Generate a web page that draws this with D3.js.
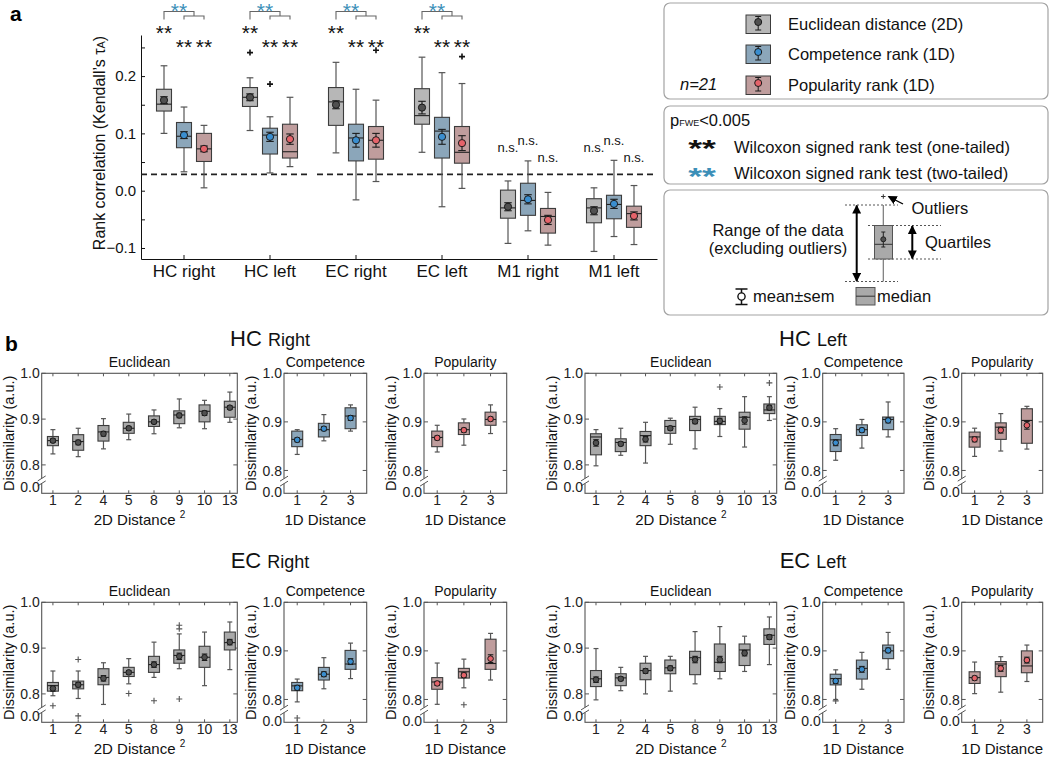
<!DOCTYPE html>
<html>
<head>
<meta charset="utf-8">
<script src="https://cdn.jsdelivr.net/npm/d3@7"></script>
<style>
  body { margin: 0; background: #fff; }
  svg { font-family: "Liberation Sans", Arial, sans-serif; }
</style>
</head>
<body>
<svg id="fig" width="1050" height="758"></svg>
<script>
// ---------- panel a data ----------
const regions = ["HC right", "HC left", "EC right", "EC left", "M1 right", "M1 left"];
const models = ["Euclidean distance (2D)", "Competence rank (1D)", "Popularity rank (1D)"];

// [whisker low, q1, median, q3, whisker high]
const euclidBoxes = [
  [0.100, 0.139, 0.151, 0.177, 0.218],
  [0.105, 0.147, 0.163, 0.180, 0.197],
  [0.066, 0.114, 0.155, 0.180, 0.224],
  [0.067, 0.116, 0.131, 0.178, 0.233],
  [-0.092, -0.048, -0.030, 0.001, 0.017],
  [-0.106, -0.056, -0.030, -0.014, 0.005]
];
const euclidMean = [0.158, 0.163, 0.150, 0.145, -0.028, -0.035];
const euclidSem = [0.006, 0.006, 0.007, 0.011, 0.007, 0.007];

const competenceBoxes = [
  [0.033, 0.075, 0.095, 0.119, 0.146],
  [0.031, 0.064, 0.097, 0.109, 0.129],
  [-0.016, 0.052, 0.092, 0.116, 0.177],
  [-0.028, 0.057, 0.104, 0.128, 0.206],
  [-0.070, -0.043, -0.017, 0.013, 0.052],
  [-0.080, -0.049, -0.024, -0.008, 0.053]
];
const competenceMean = [0.097, 0.094, 0.088, 0.094, -0.015, -0.023];
const competenceSem = [0.006, 0.008, 0.012, 0.013, 0.008, 0.008];

const popularityBoxes = [
  [0.005, 0.051, 0.073, 0.100, 0.114],
  [0.042, 0.057, 0.068, 0.116, 0.163],
  [0.016, 0.055, 0.088, 0.112, 0.158],
  [0.004, 0.048, 0.067, 0.112, 0.187],
  [-0.095, -0.074, -0.045, -0.031, -0.003],
  [-0.094, -0.064, -0.040, -0.027, 0.009]
];
const popularityMean = [0.073, 0.090, 0.088, 0.083, -0.051, -0.044];
const popularitySem = [0.005, 0.009, 0.012, 0.013, 0.008, 0.007];

// [region index, model index, value]
const outliersA = [[1, 0, 0.241], [1, 1, 0.186], [2, 2, 0.245], [3, 2, 0.234]];
const oneTailed = ["**", "**", "**", "**", "n.s.", "n.s."];
const twoTailed = [true, true, true, true, false, false];
const threshold = 0.0285;
const yTicksA = [-0.1, -0.05, 0, 0.05, 0.1, 0.15, 0.2, 0.25];

// ---------- panel b data ----------
const distances2D = ["1", "2", "4", "5", "8", "9", "10", "13"];
const distances1D = ["1", "2", "3"];
// [whisker low, q1, median, q3, whisker high, mean, sem]
const hcRightEuclid = [
  [0.824, 0.842, 0.853, 0.862, 0.877, 0.853, 0.004],
  [0.818, 0.832, 0.851, 0.866, 0.880, 0.849, 0.005],
  [0.835, 0.852, 0.872, 0.886, 0.901, 0.868, 0.005],
  [0.855, 0.869, 0.880, 0.893, 0.911, 0.880, 0.004],
  [0.868, 0.884, 0.894, 0.907, 0.920, 0.894, 0.004],
  [0.881, 0.890, 0.909, 0.918, 0.944, 0.908, 0.005],
  [0.879, 0.894, 0.917, 0.931, 0.941, 0.913, 0.005],
  [0.893, 0.904, 0.926, 0.939, 0.959, 0.925, 0.004]
];
const hcRightCompetence = [
  [0.833, 0.849, 0.864, 0.881, 0.884, 0.863, 0.004],
  [0.861, 0.869, 0.884, 0.897, 0.915, 0.886, 0.004],
  [0.881, 0.886, 0.912, 0.929, 0.935, 0.908, 0.005]
];
const hcRightPopularity = [
  [0.838, 0.849, 0.868, 0.881, 0.893, 0.867, 0.004],
  [0.852, 0.874, 0.884, 0.898, 0.906, 0.883, 0.004],
  [0.876, 0.893, 0.905, 0.920, 0.935, 0.906, 0.004]
];
const hcLeftEuclid = [
  [0.798, 0.822, 0.861, 0.868, 0.877, 0.848, 0.007],
  [0.821, 0.829, 0.849, 0.857, 0.880, 0.846, 0.004],
  [0.804, 0.842, 0.864, 0.873, 0.893, 0.856, 0.006],
  [0.845, 0.869, 0.884, 0.897, 0.902, 0.880, 0.004],
  [0.835, 0.875, 0.899, 0.906, 0.926, 0.895, 0.005],
  [0.862, 0.888, 0.895, 0.906, 0.923, 0.896, 0.006],
  [0.839, 0.878, 0.904, 0.915, 0.949, 0.897, 0.008],
  [0.897, 0.912, 0.920, 0.933, 0.949, 0.925, 0.005]
];
const hcLeftEuclidOut = [[5, 0.970], [7, 0.979]];
const hcLeftCompetence = [
  [0.821, 0.839, 0.863, 0.874, 0.886, 0.857, 0.006],
  [0.846, 0.872, 0.884, 0.894, 0.905, 0.883, 0.004],
  [0.869, 0.884, 0.905, 0.910, 0.941, 0.903, 0.005]
];
const hcLeftPopularity = [
  [0.829, 0.848, 0.869, 0.879, 0.887, 0.864, 0.005],
  [0.840, 0.864, 0.889, 0.898, 0.917, 0.883, 0.006],
  [0.844, 0.856, 0.903, 0.927, 0.932, 0.893, 0.008]
];
const ecRightEuclid = [
  [0.796, 0.806, 0.818, 0.825, 0.850, 0.812, 0.006],
  [0.790, 0.811, 0.820, 0.828, 0.850, 0.820, 0.005],
  [0.777, 0.820, 0.836, 0.855, 0.868, 0.834, 0.006],
  [0.822, 0.838, 0.847, 0.858, 0.877, 0.847, 0.004],
  [0.836, 0.847, 0.864, 0.882, 0.913, 0.864, 0.006],
  [0.855, 0.867, 0.884, 0.896, 0.931, 0.882, 0.007],
  [0.818, 0.858, 0.880, 0.904, 0.935, 0.880, 0.007],
  [0.853, 0.896, 0.912, 0.935, 0.957, 0.913, 0.006]
];
const ecRightEuclidOut = [[0, 0.774], [1, 0.875], [1, 0.752], [3, 0.801], [4, 0.785], [5, 0.950], [5, 0.942], [5, 0.789]];
const ecRightCompetence = [
  [0.795, 0.818, 0.828, 0.835, 0.842, 0.824, 0.005],
  [0.822, 0.840, 0.852, 0.866, 0.886, 0.852, 0.005],
  [0.843, 0.862, 0.873, 0.901, 0.916, 0.878, 0.006]
];
const ecRightCompetenceOut = [[0, 0.762]];
const ecRightPopularity = [
  [0.790, 0.821, 0.836, 0.845, 0.875, 0.833, 0.004],
  [0.824, 0.844, 0.857, 0.864, 0.883, 0.850, 0.005],
  [0.840, 0.862, 0.874, 0.924, 0.936, 0.884, 0.008]
];
const ecRightPopularityOut = [[1, 0.789]];
const ecLeftEuclid = [
  [0.787, 0.816, 0.833, 0.851, 0.899, 0.831, 0.006],
  [0.807, 0.818, 0.835, 0.844, 0.858, 0.833, 0.004],
  [0.800, 0.831, 0.851, 0.867, 0.882, 0.850, 0.005],
  [0.806, 0.844, 0.857, 0.874, 0.882, 0.856, 0.005],
  [0.822, 0.842, 0.879, 0.893, 0.936, 0.875, 0.007],
  [0.833, 0.849, 0.869, 0.909, 0.947, 0.875, 0.007],
  [0.849, 0.862, 0.896, 0.909, 0.926, 0.889, 0.006],
  [0.864, 0.908, 0.928, 0.942, 0.968, 0.924, 0.005]
];
const ecLeftCompetence = [
  [0.800, 0.830, 0.843, 0.852, 0.861, 0.838, 0.005],
  [0.821, 0.842, 0.864, 0.881, 0.897, 0.862, 0.006],
  [0.862, 0.884, 0.900, 0.912, 0.938, 0.901, 0.005]
];
const ecLeftCompetenceOut = [[0, 0.797]];
const ecLeftPopularity = [
  [0.812, 0.833, 0.845, 0.857, 0.877, 0.844, 0.004],
  [0.815, 0.847, 0.873, 0.878, 0.888, 0.864, 0.006],
  [0.837, 0.855, 0.869, 0.900, 0.912, 0.881, 0.006]
];

// ---------- styles ----------
const boxFill = ["#b7b7b7", "#8ba6ba", "#bf9d9d"];
const boxFillB = ["#a9a9a9", "#8ba6ba", "#bf9d9d"];
const dotFill = ["#505050", "#3a8ecf", "#e5636a"];
const starBlue = "#3c8fb8";
const lineGrey = "#555";

const svg = d3.select("#fig");

// generic box: whiskers, quartile box, median, mean +- sem
function drawBox(g, cx, y, s, mean, sem, w, fill, dot, r) {
  const [lo, q1, md, q3, hi] = s;
  const cap = w * 0.45;
  g.append("line").attr("x1", cx).attr("x2", cx).attr("y1", y(hi)).attr("y2", y(q3))
    .attr("stroke", lineGrey).attr("stroke-width", 1.2);
  g.append("line").attr("x1", cx).attr("x2", cx).attr("y1", y(q1)).attr("y2", y(lo))
    .attr("stroke", lineGrey).attr("stroke-width", 1.2);
  [hi, lo].forEach(v => g.append("line")
    .attr("x1", cx - cap / 2).attr("x2", cx + cap / 2).attr("y1", y(v)).attr("y2", y(v))
    .attr("stroke", lineGrey).attr("stroke-width", 1.2));
  g.append("rect").attr("x", cx - w / 2).attr("y", y(q3))
    .attr("width", w).attr("height", y(q1) - y(q3))
    .attr("fill", fill).attr("stroke", "#3c3c3c").attr("stroke-width", 1.1);
  g.append("line").attr("x1", cx - w / 2).attr("x2", cx + w / 2)
    .attr("y1", y(md)).attr("y2", y(md)).attr("stroke", "#222").attr("stroke-width", 1.1);
  // mean +- sem
  const ecap = w * 0.5;
  g.append("line").attr("x1", cx).attr("x2", cx).attr("y1", y(mean + sem)).attr("y2", y(mean - sem))
    .attr("stroke", "#1a1a1a").attr("stroke-width", 1.1);
  [mean + sem, mean - sem].forEach(v => g.append("line")
    .attr("x1", cx - ecap / 2).attr("x2", cx + ecap / 2).attr("y1", y(v)).attr("y2", y(v))
    .attr("stroke", "#1a1a1a").attr("stroke-width", 1.1));
  g.append("circle").attr("cx", cx).attr("cy", y(mean)).attr("r", r)
    .attr("fill", dot).attr("stroke", "#1a1a1a").attr("stroke-width", 1);
}

function plus(g, cx, cy, size, color, sw) {
  g.append("path")
    .attr("d", `M${cx - size / 2},${cy}H${cx + size / 2}M${cx},${cy - size / 2}V${cy + size / 2}`)
    .attr("stroke", color).attr("stroke-width", sw).attr("fill", "none");
}

// =================== PANEL A ===================
svg.append("text").attr("x", 10).attr("y", 21).attr("font-size", 21)
  .attr("font-weight", "bold").text("a");

const xA = d3.scaleBand().domain(regions).range([141, 657]);
const yA = d3.scaleLinear().domain([-0.1192, 0.2717]).range([259, 35]);
const offsets = [-20, 0, 20];

const gA = svg.append("g");

const yAxisA = d3.axisLeft(yA).tickValues(yTicksA).tickSizeInner(-4).tickSizeOuter(0).tickPadding(5)
  .tickFormat(d => Math.abs(d * 10 - Math.round(d * 10)) < 1e-9 ? d3.format(".1f")(d) : "");
gA.append("g").attr("transform", "translate(141,0)").call(yAxisA)
  .call(g => g.selectAll("text").attr("font-size", 15).attr("font-family", null).attr("fill", "#111"))
  .call(g => g.selectAll("line, path").attr("stroke", "#111"));

const xAxisA = d3.axisBottom(xA).tickSizeInner(-4).tickSizeOuter(0).tickPadding(6);
gA.append("g").attr("transform", "translate(0,259)").call(xAxisA)
  .call(g => g.selectAll("text").attr("font-size", 17).attr("font-family", null).attr("fill", "#111"))
  .call(g => g.selectAll("line, path").attr("stroke", "#111"));

gA.append("text")
  .attr("transform", "translate(105,143) rotate(-90)")
  .attr("text-anchor", "middle").attr("font-size", 16).attr("fill", "#111")
  .call(t => {
    t.append("tspan").text("Rank correlation (Kendall\u2019s \u03c4");
    t.append("tspan").attr("font-size", 11).text("A");
    t.append("tspan").text(")");
  });

// dashed threshold
const bw = xA.bandwidth();
[[xA(regions[0]), xA(regions[1]) + bw - 6], [xA(regions[2]) + 4, 657]].forEach(([a, b]) => {
  gA.append("line").attr("x1", a).attr("x2", b).attr("y1", yA(threshold)).attr("y2", yA(threshold))
    .attr("stroke", "#222").attr("stroke-width", 1.6).attr("stroke-dasharray", "6,4");
});

const statsA = [
  [euclidBoxes, euclidMean, euclidSem],
  [competenceBoxes, competenceMean, competenceSem],
  [popularityBoxes, popularityMean, popularitySem]
];
regions.forEach((reg, i) => {
  const c = xA(reg) + bw / 2;
  statsA.forEach(([boxes, means, sems], m) => {
    drawBox(gA, c + offsets[m], yA, boxes[i], means[i], sems[i], 15, boxFill[m], dotFill[m], 3.6);
  });
});
outliersA.forEach(([r, m, v]) => {
  plus(gA, xA(regions[r]) + bw / 2 + offsets[m], yA(v), 6, "#111", 1.6);
});

// significance marks
regions.forEach((reg, i) => {
  const c = xA(reg) + bw / 2;
  if (oneTailed[i] === "**") {
    [[-20, 40], [0, 53.5], [20, 53.5]].forEach(([dx, yb]) => {
      gA.append("text").attr("x", c + dx).attr("y", yb).attr("text-anchor", "middle")
        .attr("font-size", 21).attr("fill", "#111").text("**");
    });
  } else {
    [[-20, 151.5], [0, 145], [20, 161.5]].forEach(([dx, yb]) => {
      gA.append("text").attr("x", c + dx).attr("y", yb).attr("text-anchor", "middle")
        .attr("font-size", 13).attr("fill", "#111").text("n.s.");
    });
  }
  if (twoTailed[i]) {
    gA.append("path")
      .attr("d", `M${c - 20},19.5V11.5H${c + 10}V16 M${c},19.5V16H${c + 20}V19.5`)
      .attr("fill", "none").attr("stroke", "#666").attr("stroke-width", 1.1);
    gA.append("text").attr("x", c - 5).attr("y", 17.5).attr("text-anchor", "middle")
      .attr("font-size", 21).attr("fill", starBlue).text("**");
  }
});

// =================== LEGENDS ===================
const gL = svg.append("g");
const legendFrames = [[3, 96], [106, 78], [190, 125]];
legendFrames.forEach(([y, h]) => {
  gL.append("rect").attr("x", 664).attr("y", y).attr("width", 384).attr("height", h)
    .attr("rx", 6).attr("fill", "none").attr("stroke", "#a3a3a3").attr("stroke-width", 1.2);
});

// legend 1: model swatches
const legendY = [15, 45, 76];
models.forEach((name, m) => {
  const y0 = legendY[m];
  gL.append("rect").attr("x", 746).attr("y", y0).attr("width", 24.5).attr("height", 18.5)
    .attr("fill", boxFill[m]).attr("stroke", "#3c3c3c").attr("stroke-width", 1);
  const cx = 758.2;
  gL.append("path").attr("d", `M${cx - 3},${y0 + 1.5}H${cx + 3}M${cx},${y0 + 1.5}V${y0 + 15}M${cx - 3},${y0 + 15}H${cx + 3}`)
    .attr("stroke", "#1a1a1a").attr("fill", "none").attr("stroke-width", 1);
  gL.append("circle").attr("cx", cx).attr("cy", y0 + 7).attr("r", 3.5)
    .attr("fill", dotFill[m]).attr("stroke", "#1a1a1a");
  gL.append("text").attr("x", 788).attr("y", y0 + 15).attr("font-size", 16.5).attr("fill", "#111").text(name);
});
gL.append("text").attr("x", 680).attr("y", 90).attr("font-size", 16.5).attr("font-style", "italic")
  .attr("fill", "#111").text("n=21");

// legend 2: tests
gL.append("text").attr("x", 670).attr("y", 126).attr("font-size", 16.5).attr("fill", "#111")
  .call(t => {
    t.append("tspan").text("p");
    t.append("tspan").attr("font-size", 9).text("FWE");
    t.append("tspan").text("<0.005");
  });
[["#111", 157.3, 152.5, "one-tailed"], [starBlue, 184.6, 179, "two-tailed"]].forEach(([col, ys, yb, kind]) => {
  gL.append("text").attr("transform", `translate(702,${ys}) scale(1.55,1)`)
    .attr("text-anchor", "middle").attr("font-size", 23).attr("font-weight", "bold")
    .attr("fill", col).text("**");
  gL.append("text").attr("x", 734).attr("y", yb).attr("font-size", 16.5).attr("fill", "#111")
    .text(`Wilcoxon signed rank test (${kind})`);
});

// legend 3: boxplot key
const defs = svg.append("defs");
defs.append("marker").attr("id", "arr").attr("viewBox", "0 0 10 10").attr("refX", 9).attr("refY", 5)
  .attr("markerWidth", 9).attr("markerHeight", 9).attr("markerUnits", "userSpaceOnUse")
  .attr("orient", "auto-start-reverse")
  .append("path").attr("d", "M0,0L10,5L0,10z").attr("fill", "#000");

const dotted = (x1, x2, y) => gL.append("line").attr("x1", x1).attr("x2", x2).attr("y1", y).attr("y2", y)
  .attr("stroke", "#555").attr("stroke-width", 1).attr("stroke-dasharray", "2,2");
dotted(845, 898, 205);
dotted(845, 898, 281.5);
dotted(868, 941, 225.5);
dotted(868, 941, 259);
gL.append("line").attr("x1", 883.3).attr("x2", 883.3).attr("y1", 205).attr("y2", 281.5)
  .attr("stroke", "#777").attr("stroke-width", 1.2);
gL.append("rect").attr("x", 874.5).attr("y", 225.5).attr("width", 18).attr("height", 33.5)
  .attr("fill", "#a9a9a9").attr("stroke", "#555");
gL.append("line").attr("x1", 874.5).attr("x2", 892.5).attr("y1", 244.3).attr("y2", 244.3).attr("stroke", "#333");
gL.append("path").attr("d", "M881.3,232H885.3M883.3,232V247M881.3,247H885.3").attr("stroke", "#222").attr("fill", "none");
gL.append("circle").attr("cx", 883.3).attr("cy", 239.3).attr("r", 2.5).attr("fill", "#505050").attr("stroke", "#222");
plus(gL, 883.3, 196.5, 4.5, "#333", 1);
gL.append("line").attr("x1", 903).attr("x2", 888.5).attr("y1", 204).attr("y2", 196.5)
  .attr("stroke", "#000").attr("stroke-width", 1.4).attr("marker-end", "url(#arr)");
gL.append("line").attr("x1", 856.7).attr("x2", 856.7).attr("y1", 205.5).attr("y2", 281)
  .attr("stroke", "#000").attr("stroke-width", 2).attr("marker-start", "url(#arr)").attr("marker-end", "url(#arr)");
gL.append("line").attr("x1", 912.3).attr("x2", 912.3).attr("y1", 226).attr("y2", 258.5)
  .attr("stroke", "#000").attr("stroke-width", 2).attr("marker-start", "url(#arr)").attr("marker-end", "url(#arr)");
gL.append("text").attr("x", 911.5).attr("y", 214).attr("font-size", 16.5).attr("fill", "#111").text("Outliers");
gL.append("text").attr("x", 925).attr("y", 248).attr("font-size", 16.5).attr("fill", "#111").text("Quartiles");
gL.append("text").attr("x", 778).attr("y", 235.5).attr("text-anchor", "middle").attr("font-size", 16.5)
  .attr("fill", "#111").text("Range of the data");
gL.append("text").attr("x", 778).attr("y", 254).attr("text-anchor", "middle").attr("font-size", 16.5)
  .attr("fill", "#111").text("(excluding outliers)");
// mean +- sem key
gL.append("path").attr("d", "M735.5,289H747.5M741.5,289V304.5M735.5,304.5H747.5")
  .attr("stroke", "#111").attr("stroke-width", 1.5).attr("fill", "none");
gL.append("circle").attr("cx", 741.5).attr("cy", 296.5).attr("r", 3.6).attr("fill", "#fff")
  .attr("stroke", "#111").attr("stroke-width", 1.4);
gL.append("text").attr("x", 753).attr("y", 302).attr("font-size", 16.5).attr("fill", "#111").text("mean\u00b1sem");
gL.append("rect").attr("x", 856).attr("y", 287.5).attr("width", 19).attr("height", 17.5)
  .attr("fill", "#a9a9a9").attr("stroke", "#555");
gL.append("line").attr("x1", 856).attr("x2", 875).attr("y1", 296.2).attr("y2", 296.2).attr("stroke", "#333");
gL.append("text").attr("x", 877).attr("y", 302).attr("font-size", 16.5).attr("fill", "#111").text("median");

// =================== PANEL B ===================
svg.append("text").attr("x", 5).attr("y", 351).attr("font-size", 21)
  .attr("font-weight", "bold").text("b");

function subplot(x0, x1, yTop, kind, boxes, outs, m, title) {
  const g = svg.append("g");
  const euc = kind === "euclid";
  const h = 120;
  const cats = euc ? distances2D : distances1D;
  const x = d3.scalePoint().domain(cats).range([x0, x1])
    .padding(euc ? 0.37 : 0.55).align(euc ? 0.6 : 0.45);
  const y = d3.scaleLinear().domain(euc ? [0.738, 1.0] : [0.753, 1.0]).range([yTop + h, yTop]);
  const yb = yTop + h;

  // frame
  g.append("rect").attr("x", x0).attr("y", yTop).attr("width", x1 - x0).attr("height", h)
    .attr("fill", "none").attr("stroke", lineGrey).attr("stroke-width", 1.1);
  // ticks (inward)
  [0.8, 0.9, 1.0].forEach(v => {
    g.append("line").attr("x1", x0).attr("x2", x0 + 4).attr("y1", y(v)).attr("y2", y(v)).attr("stroke", lineGrey);
    g.append("line").attr("x1", x1 - 4).attr("x2", x1).attr("y1", y(v)).attr("y2", y(v)).attr("stroke", lineGrey);
    g.append("text").attr("x", x0 - 2).attr("y", y(v)).attr("dy", "0.36em").attr("text-anchor", "end")
      .attr("font-size", 14).attr("fill", "#222").text(v.toFixed(1));
  });
  cats.forEach(c => {
    g.append("line").attr("x1", x(c)).attr("x2", x(c)).attr("y1", yb).attr("y2", yb - 3).attr("stroke", lineGrey);
    g.append("line").attr("x1", x(c)).attr("x2", x(c)).attr("y1", yTop).attr("y2", yTop + 3).attr("stroke", lineGrey);
    g.append("text").attr("x", x(c)).attr("y", yb + 12).attr("text-anchor", "middle")
      .attr("font-size", 14).attr("fill", "#222").text(c);
  });
  // axis break and the 0.0 label
  const zeroY = euc ? y(0.752) : y(0.755);
  const brk = euc ? y(0.765) : y(0.778);
  g.append("rect").attr("x", x0 - 2).attr("y", brk - 2.5).attr("width", 4).attr("height", 5).attr("fill", "#fff");
  [-2.5, 2.5].forEach(d => g.append("line")
    .attr("x1", x0 - 4).attr("x2", x0 + 4).attr("y1", brk + d + 2.5).attr("y2", brk + d - 2.5)
    .attr("stroke", lineGrey).attr("stroke-width", 1));
  g.append("text").attr("x", x0 - 2).attr("y", zeroY).attr("dy", "0.36em").attr("text-anchor", "end")
    .attr("font-size", 14).attr("fill", "#222").text("0.0");

  boxes.forEach((s, i) => {
    drawBox(g, x(cats[i]), y, s.slice(0, 5), s[5], s[6], 11, boxFillB[m], dotFill[m], 2.8);
  });
  (outs || []).forEach(([i, v]) => plus(g, x(cats[i]), y(v), 6, "#555", 1.1));

  // labels
  g.append("text").attr("x", (x0 + x1) / 2).attr("y", yTop - 6.5).attr("text-anchor", "middle")
    .attr("font-size", 14).attr("fill", "#111").text(title);
  g.append("text").attr("transform", `translate(${x0 - 28},${yTop + h / 2}) rotate(-90)`)
    .attr("text-anchor", "middle").attr("font-size", 14.5).attr("fill", "#111").text("Dissimilarity (a.u.)");
  const xl = g.append("text").attr("x", (x0 + x1) / 2).attr("y", yb + 31.5).attr("text-anchor", "middle")
    .attr("font-size", 15).attr("fill", "#111");
  if (euc) {
    xl.append("tspan").text("2D Distance ");
    xl.append("tspan").attr("font-size", 10).attr("dy", -7).text("2");
  } else {
    xl.text("1D Distance");
  }
}

function groupTitle(cx, yb, big, small) {
  const t = svg.append("text").attr("x", cx).attr("y", yb).attr("text-anchor", "middle").attr("fill", "#111");
  t.append("tspan").attr("font-size", 22).text(big + " ");
  t.append("tspan").attr("font-size", 18).text(small);
}

const colsB = [
  { euc: [41.7, 237.3], comp: [284, 366.7], pop: [424, 506.7], title: 270 },
  { euc: [585, 776.7], comp: [822.7, 904], pop: [961.7, 1042.7], title: 813 }
];
const rowsB = [373.3, 602.3];
const groupsB = [
  { col: 0, row: 0, name: ["HC", "Right"], e: hcRightEuclid, eo: [], c: hcRightCompetence, co: [], p: hcRightPopularity, po: [] },
  { col: 1, row: 0, name: ["HC", "Left"], e: hcLeftEuclid, eo: hcLeftEuclidOut, c: hcLeftCompetence, co: [], p: hcLeftPopularity, po: [] },
  { col: 0, row: 1, name: ["EC", "Right"], e: ecRightEuclid, eo: ecRightEuclidOut, c: ecRightCompetence, co: ecRightCompetenceOut, p: ecRightPopularity, po: ecRightPopularityOut },
  { col: 1, row: 1, name: ["EC", "Left"], e: ecLeftEuclid, eo: [], c: ecLeftCompetence, co: ecLeftCompetenceOut, p: ecLeftPopularity, po: [] }
];
groupsB.forEach(gr => {
  const col = colsB[gr.col];
  const yTop = rowsB[gr.row];
  groupTitle(col.title, gr.row === 0 ? 346 : 568, gr.name[0], gr.name[1]);
  subplot(col.euc[0], col.euc[1], yTop, "euclid", gr.e, gr.eo, 0, "Euclidean");
  subplot(col.comp[0], col.comp[1], yTop, "oneD", gr.c, gr.co, 1, "Competence");
  subplot(col.pop[0], col.pop[1], yTop, "oneD", gr.p, gr.po, 2, "Popularity");
});
</script>
</body>
</html>
